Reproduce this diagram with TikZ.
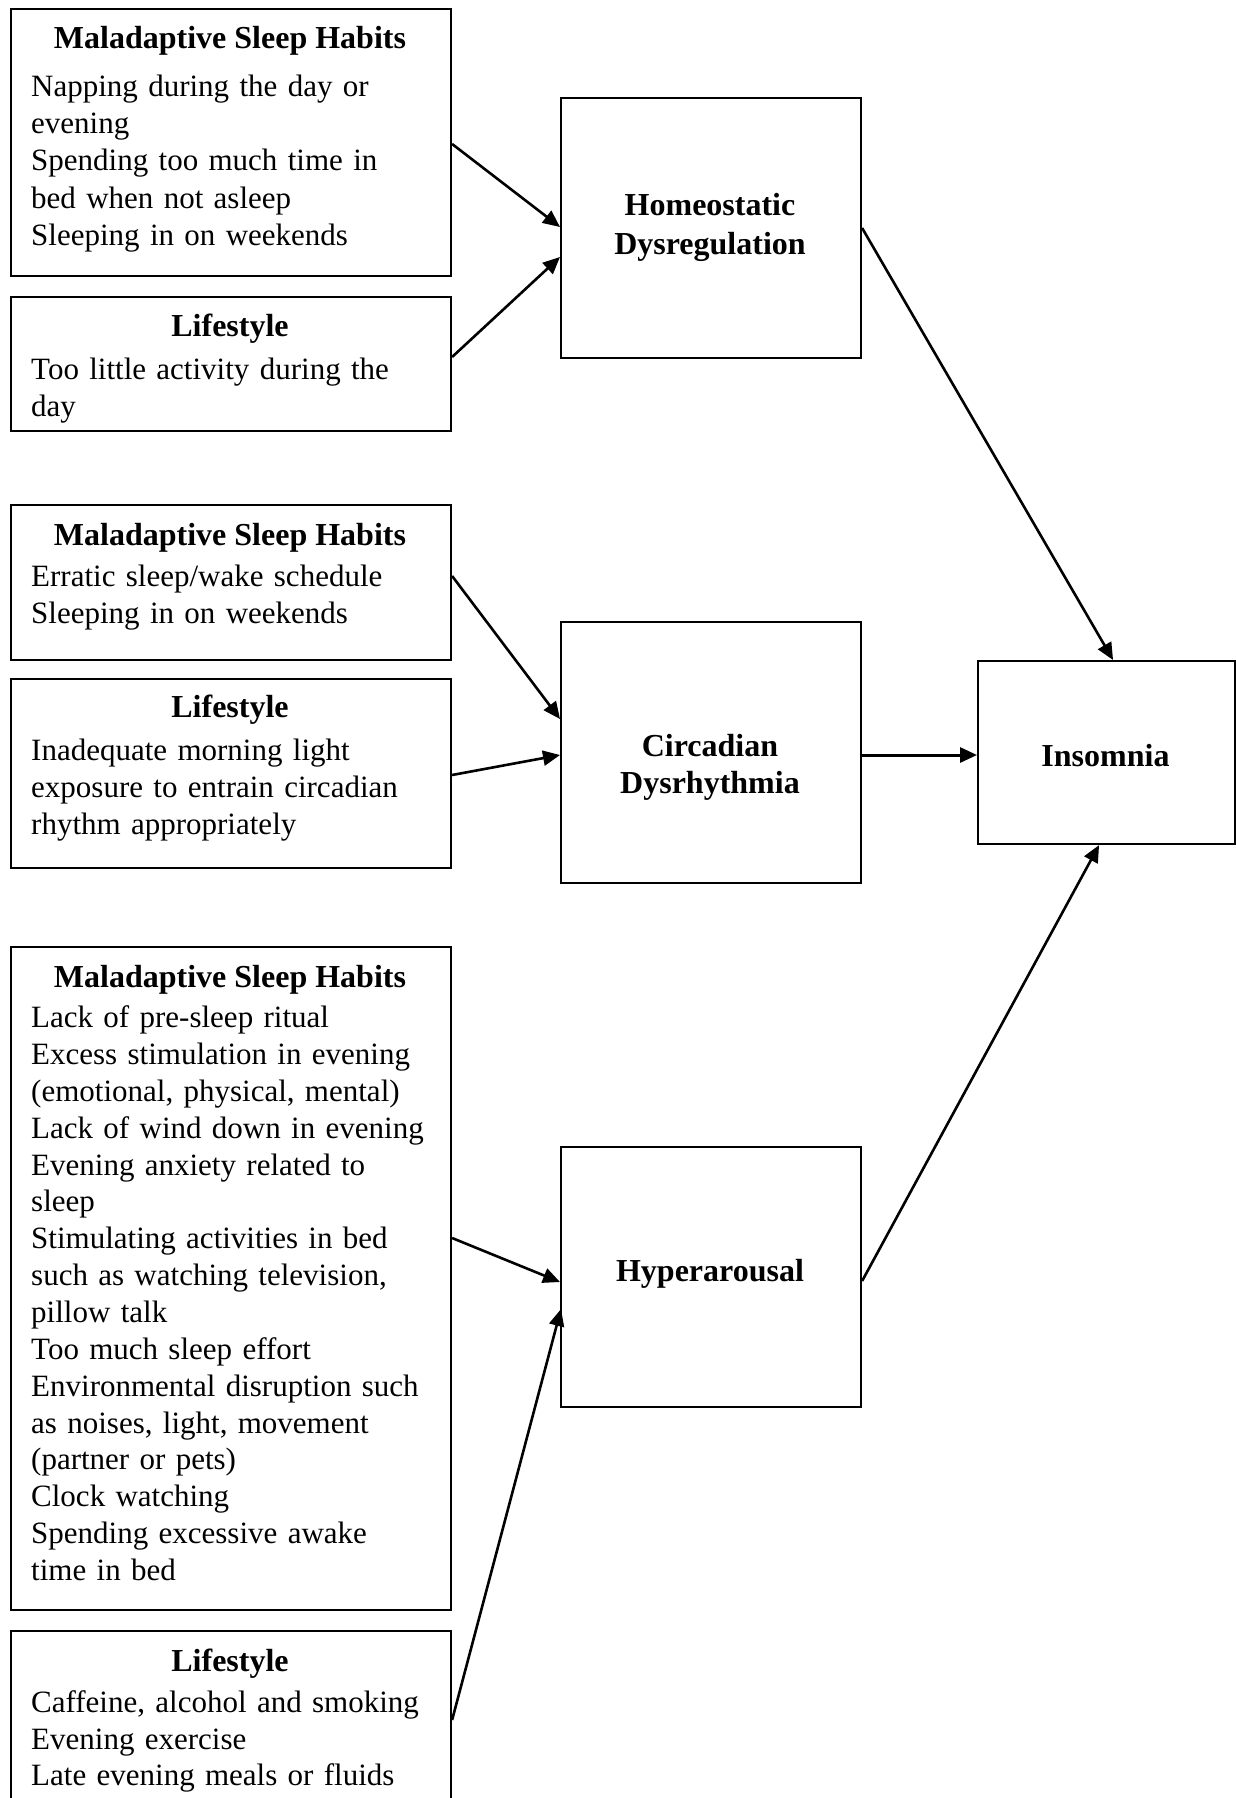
\documentclass[tikz,border=0pt]{standalone}
\usepackage{fontspec}
\setmainfont{Liberation Serif}
\usetikzlibrary{arrows.meta,calc}
\begin{document}
\begin{tikzpicture}[x=1pt,y=-1pt,
  frame/.style={draw, line width=2.1pt, rectangle, inner sep=0pt, anchor=north west},
  heading/.style={font=\fontsize{32}{38}\selectfont\bfseries, anchor=base, inner sep=0pt},
  body/.style={font=\fontsize{31}{37.2}\selectfont, text width=420pt, align=left, anchor=base west, inner sep=0pt},
  title/.style={font=\fontsize{32}{38.5}\selectfont\bfseries, text width=290pt, align=center, anchor=base, inner sep=0pt},
  link/.style={line width=2.6pt, -{Triangle[length=17pt,width=15pt]}},
]
\useasboundingbox (0,0) rectangle (1235,1798);

% factor boxes on the left
\node[frame, minimum width=440pt, minimum height=267pt] (mA) at (10,8) {};
\node[frame, minimum width=440pt, minimum height=134pt] (lA) at (10,296) {};
\node[frame, minimum width=440pt, minimum height=155pt] (mB) at (10,504) {};
\node[frame, minimum width=440pt, minimum height=189pt] (lB) at (10,678) {};
\node[frame, minimum width=440pt, minimum height=663pt] (mC) at (10,946) {};
\node[frame, minimum width=440pt, minimum height=200pt] (lC) at (10,1630) {};

% mechanism boxes and outcome
\node[frame, minimum width=300pt, minimum height=260pt] (homeo) at (560,97) {};
\node[frame, minimum width=300pt, minimum height=261pt] (circ) at (560,621) {};
\node[frame, minimum width=300pt, minimum height=260pt] (hyper) at (560,1146) {};
\node[frame, minimum width=257pt, minimum height=183pt] (insom) at (977,660) {};

% headings of the factor boxes
\node[heading] (mAh) at (230,49) {Maladaptive Sleep Habits};
\node[heading] (lAh) at (230,336) {Lifestyle};
\node[heading] (mBh) at (230,545) {Maladaptive Sleep Habits};
\node[heading] (lBh) at (230,717) {Lifestyle};
\node[heading] (mCh) at (230,987) {Maladaptive Sleep Habits};
\node[heading] (lCh) at (230,1671) {Lifestyle};

% lists of factors
\node[body] (mAt) at (31,96.5) {Napping during the day or\\evening\\Spending too much time in\\bed when not asleep\\Sleeping in on weekends};
\node[body] (lAt) at (31,379.7) {Too little activity during the\\day};
\node[body] (mBt) at (31,586.5) {Erratic sleep/wake schedule\\Sleeping in on weekends};
\node[body] (lBt) at (31,760) {Inadequate morning light\\exposure to entrain circadian\\rhythm appropriately};
\node[body, font=\fontsize{31}{36.85}\selectfont] (mCt) at (31,1027.7) {Lack of pre-sleep ritual\\Excess stimulation in evening\\(emotional, physical, mental)\\Lack of wind down in evening\\Evening anxiety related to\\sleep\\Stimulating activities in bed\\such as watching television,\\pillow talk\\Too much sleep effort\\Environmental disruption such\\as noises, light, movement\\(partner or pets)\\Clock watching\\Spending excessive awake\\time in bed};
\node[body, font=\fontsize{31}{36.7}\selectfont] (lCt) at (31,1712.3) {Caffeine, alcohol and smoking\\Evening exercise\\Late evening meals or fluids};

% titles of the mechanism and outcome boxes
\node[title, font=\fontsize{32}{39}\selectfont\bfseries] (homeoT) at (710,215) {Homeostatic\\Dysregulation};
\node[title, font=\fontsize{32}{37.7}\selectfont\bfseries] (circT) at (710,756) {Circadian\\Dysrhythmia};
\node[title] (hyperT) at (710,1281) {Hyperarousal};
\node[title, text width=240pt] (insomT) at (1105.5,766) {Insomnia};

% connectors
\draw[link] ($(mA.north east)+(0,136)$) -- ($(homeo.north west)+(0,130)$);
\draw[link] ($(lA.north east)+(0,61)$) -- ($(homeo.north west)+(0,160)$);
\draw[link] ($(homeo.north east)+(0,131)$) -- ($(insom.north)+(6.5,0)$);
\draw[link] ($(mB.north east)+(0,72)$) -- ($(circ.north west)+(0,98)$);
\draw[link] ($(lB.north east)+(0,97)$) -- ($(circ.north west)+(0,134)$);
\draw[link, line width=3pt] ($(circ.north east)+(0,134)$) -- ($(insom.north west)+(0,95)$);
\draw[link] ($(mC.north east)+(0,292)$) -- ($(hyper.north west)+(0,136)$);
\draw[link] ($(lC.north east)+(0,90)$) -- ($(hyper.north west)+(1,163)$);
\draw[link] ($(hyper.north east)+(0,135)$) -- ($(insom.south)+(-7.5,0)$);
\end{tikzpicture}
\end{document}
